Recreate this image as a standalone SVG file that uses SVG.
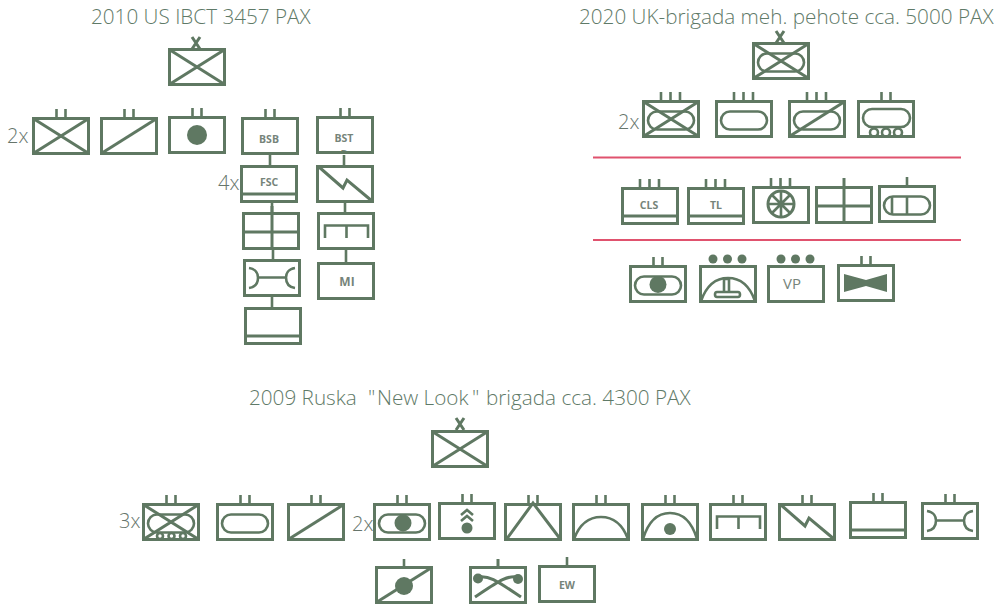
<svg xmlns="http://www.w3.org/2000/svg" width="1008" height="607" viewBox="0 0 1008 607">
<style>
.b{fill:none;stroke:#5f7862;stroke-width:3}
.l{fill:none;stroke:#5f7862;stroke-width:2.6}
.f{fill:#5f7862;stroke:none}
.t{font-family:"Open Sans","Noto Sans",sans-serif;font-weight:300;font-size:20.7px;fill:#5f7a68}
.c{font-family:"Open Sans","Noto Sans",sans-serif;font-weight:300;font-size:20px;fill:#66756b}
.s{font-family:"Open Sans","Liberation Sans",sans-serif;font-weight:700;font-size:10.500px;fill:#76847a;text-anchor:middle}
.r{stroke:#e0526e;stroke-width:2;fill:none}
</style>
<defs>
<rect id="box" class="b" x="1.5" y="1.5" width="55" height="35"/>
<path id="x" class="b" d="M2 2L56 36M56 2L2 36"/>
<path id="sl" class="b" d="M2 36L56 2"/>
<rect id="ov" class="l" x="6" y="11.500" width="46" height="18" rx="9"/>
<path id="t2" class="l" d="M24.5 0V-8M33.5 0V-8"/>
<path id="t3" class="l" d="M19 0V-8M28.5 0V-8M38 0V-8"/>
<path id="bar" class="b" d="M2 29H56"/>
<path id="rep" class="l" d="M6 9C13 10 15 15 15 18.5C15 23 13 28 6 29M15 18.5H43M52 9C45 10 43 15 43 18.5C43 23 45 28 52 29"/>
<path id="ltn" class="b" d="M3 2L27 23L31 15L56 36"/>
<path id="cmb" class="l" d="M8 26V13.5H51V26M29.500 13.500V26"/>
<path id="grd" class="b" d="M2 20H56"/>
<path id="xm" class="b" d="M-4-6L4 6M4-6L-4 6"/>
<clipPath id="bclip"><rect x="0" y="30" width="58" height="6"/></clipPath>
</defs>
<g id="titles">
<text class="t" x="91" y="24">2010 US IBCT 3457 PAX</text>
<text class="t" x="579" y="24">2020 UK-brigada meh. pehote cca. 5000 PAX</text>
<text class="t" y="405"><tspan x="249">2009 Ruska </tspan><tspan x="368">"</tspan><tspan x="377">New Look</tspan><tspan x="472">" </tspan><tspan x="486">brigada cca. 4300 PAX</tspan></text>
</g>
<g id="connectors">
<path class="l" d="M270 155V165M344 155V165M272 202V212M345 202V212M273 250V259M346 250V262M272 297V307"/>
<path class="r" d="M593 157.500H961M593 240H961"/>
</g>
<g id="us-hq" transform="translate(168,48)"><use href="#box"/><use href="#x"/><use href="#xm" x="28" y="-5"/></g>
<g id="us-inf" transform="translate(32,117)"><text class="c" x="-25" y="26">2x</text><use href="#box"/><use href="#x"/><use href="#t2"/></g>
<g id="us-cav" transform="translate(100,117)"><use href="#box"/><use href="#sl"/><use href="#t2"/></g>
<g id="us-art" transform="translate(168,116)"><use href="#box"/><use href="#t2"/><circle class="f" cx="29" cy="19" r="10"/></g>
<g id="us-bsb" transform="translate(241,117)"><use href="#box"/><use href="#t2"/><text class="s" x="28" y="26">BSB</text></g>
<g id="us-bstb" transform="translate(316,116)"><text class="s" x="28" y="42" clip-path="url(#bclip)">B</text><use href="#box"/><use href="#t2"/><text class="s" x="28" y="26">BST</text></g>
<g id="us-fsc" transform="translate(240,165)"><text class="c" x="-22" y="25">4x</text><use href="#box"/><use href="#bar"/><text class="s" x="29" y="21">FSC</text></g>
<g id="us-sig" transform="translate(316,165)"><use href="#box"/><use href="#ltn"/></g>
<g id="us-eng" transform="translate(242,212)"><use href="#box"/><use href="#grd"/><path class="b" d="M30-6V38"/></g>
<g id="us-rec" transform="translate(317,212)"><use href="#box"/><use href="#cmb"/></g>
<g id="us-mnt" transform="translate(243,259)"><use href="#box"/><use href="#rep"/></g>
<g id="us-mi" transform="translate(317,262)"><use href="#box"/><text class="s" x="30" y="24" style="font-size:12px">MI</text></g>
<g id="us-sup" transform="translate(244,307)"><use href="#box"/><use href="#bar"/></g>

<g id="uk-hq" transform="translate(752,42)"><use href="#box"/><use href="#ov"/><use href="#x"/><use href="#xm" x="28" y="-5"/></g>
<g id="uk-inf" transform="translate(642,100)"><text class="c" x="-24" y="29">2x</text><use href="#box"/><use href="#ov"/><use href="#x"/><use href="#t3"/></g>
<g id="uk-tank" transform="translate(715,100)"><use href="#box"/><use href="#ov"/><use href="#t3"/></g>
<g id="uk-cav" transform="translate(788,100)"><use href="#box"/><use href="#ov"/><use href="#sl"/><use href="#t3"/></g>
<g id="uk-trk" transform="translate(857,100)"><use href="#box"/><rect class="l" x="6" y="9" width="47" height="18" rx="9"/><use href="#t2"/><circle class="l" cx="17" cy="32.500" r="4"/><circle class="l" cx="29" cy="32.500" r="4"/><circle class="l" cx="41" cy="32.500" r="4"/></g>
<g id="uk-cls" transform="translate(621,187)"><use href="#box"/><use href="#bar"/><use href="#t3"/><text class="s" x="28" y="22">CLS</text></g>
<g id="uk-tl" transform="translate(687,187)"><use href="#box"/><use href="#bar"/><use href="#t3"/><text class="s" x="29" y="22">TL</text></g>
<g id="uk-med" transform="translate(752,186)"><use href="#box"/><use href="#t3"/><g transform="translate(29,18)"><circle class="b" r="13"/><path class="l" d="M-13 0H13M0-13V13M-9-9L9 9M9-9L-9 9"/><circle class="f" r="3"/></g></g>
<g id="uk-eng" transform="translate(815,186)"><use href="#box"/><use href="#grd"/><path class="b" d="M29-8V38"/></g>
<g id="uk-atk" transform="translate(878,185)"><use href="#box"/><use href="#ov"/><path class="l" d="M29 0V-8M29 12V29M14 12V29"/></g>
<g id="uk-art" transform="translate(629,265)"><use href="#box"/><use href="#ov"/><use href="#t2"/><circle class="f" cx="29" cy="19.500" r="8.500"/></g>
<g id="uk-ad" transform="translate(699,265)"><use href="#box"/><path class="l" d="M2 36C8 19 18 13 29 13C40 13 50 19 56 36"/><path class="l" d="M25 27V14H30V27M18 27H39Q41 27 41 29.500Q41 32 39 32H18Q16 32 16 29.500Q16 27 18 27Z"/><circle class="f" cx="14" cy="-6" r="4.500"/><circle class="f" cx="28.500" cy="-6" r="4.500"/><circle class="f" cx="43" cy="-6" r="4.500"/></g>
<g id="uk-vp" transform="translate(767,265)"><use href="#box"/><circle class="f" cx="14" cy="-6" r="4.500"/><circle class="f" cx="28.500" cy="-6" r="4.500"/><circle class="f" cx="43" cy="-6" r="4.500"/><text class="s" x="25" y="24" style="font-size:15px;font-weight:400">VP</text></g>
<g id="uk-ftr" transform="translate(837,264)"><use href="#box"/><use href="#t2"/><path class="f" d="M7 10L29 16L50 10V28L29 22L7 28Z"/></g>

<g id="ru-hq" transform="translate(431,430)"><use href="#box"/><use href="#x"/><use href="#xm" x="29" y="-6"/></g>
<g id="ru-inf" transform="translate(142,503)"><text class="c" x="-23" y="25">3x</text><use href="#box"/><use href="#ov"/><use href="#x"/><use href="#t2"/><circle class="l" cx="18" cy="33" r="3"/><circle class="l" cx="29.500" cy="33" r="3"/><circle class="l" cx="41" cy="33" r="3"/></g>
<g id="ru-tank" transform="translate(216,503)"><use href="#box"/><use href="#ov"/><use href="#t2"/></g>
<g id="ru-cav" transform="translate(287,503)"><use href="#box"/><use href="#sl"/><use href="#t2"/></g>
<g id="ru-spa" transform="translate(373,503)"><text class="c" x="-21" y="28">2x</text><use href="#box"/><use href="#ov"/><use href="#t2"/><circle class="f" cx="30" cy="20" r="8.500"/></g>
<g id="ru-rkt" transform="translate(438,502)"><use href="#box"/><use href="#t2"/><path class="l" d="M23 13L29 8L35 13M23 19L29 14L35 19"/><circle class="f" cx="29" cy="26" r="5.500"/></g>
<g id="ru-ada" transform="translate(504,503)"><use href="#box"/><use href="#t2"/><path class="b" d="M2 37L29 0L57 37"/></g>
<g id="ru-arc" transform="translate(572,503)"><use href="#box"/><use href="#t2"/><path class="l" d="M2 36C8 20 18 14 29 14C40 14 50 20 56 36"/></g>
<g id="ru-arcd" transform="translate(641,503)"><use href="#box"/><use href="#t2"/><path class="l" d="M2 36C8 16 18 10 29 10C40 10 50 16 56 36"/><circle class="f" cx="29" cy="26" r="6"/></g>
<g id="ru-rec" transform="translate(709,503)"><use href="#box"/><use href="#cmb"/><use href="#t2"/></g>
<g id="ru-sig" transform="translate(778,503)"><use href="#box"/><use href="#ltn"/><use href="#t2"/></g>
<g id="ru-sup" transform="translate(849,501)"><use href="#box"/><use href="#bar"/><use href="#t2"/></g>
<g id="ru-mnt" transform="translate(921,502)"><use href="#box"/><use href="#rep"/><use href="#t2"/></g>
<g id="ru-atk" transform="translate(375,566)"><use href="#box"/><use href="#sl"/><path class="l" d="M29 0V-7"/><circle class="f" cx="29" cy="20" r="9"/></g>
<g id="ru-eng" transform="translate(469,566)"><use href="#box"/><path class="b" d="M29 0V-7M9 11C20 9 28 15 52 31M49 11C38 9 30 15 6 31"/><circle class="f" cx="9" cy="12.500" r="5"/><circle class="f" cx="49" cy="13" r="5"/></g>
<g id="ru-ew" transform="translate(538,565)"><use href="#box"/><path class="l" d="M29 0V-8"/><text class="s" x="29" y="24">EW</text></g>
</svg>
